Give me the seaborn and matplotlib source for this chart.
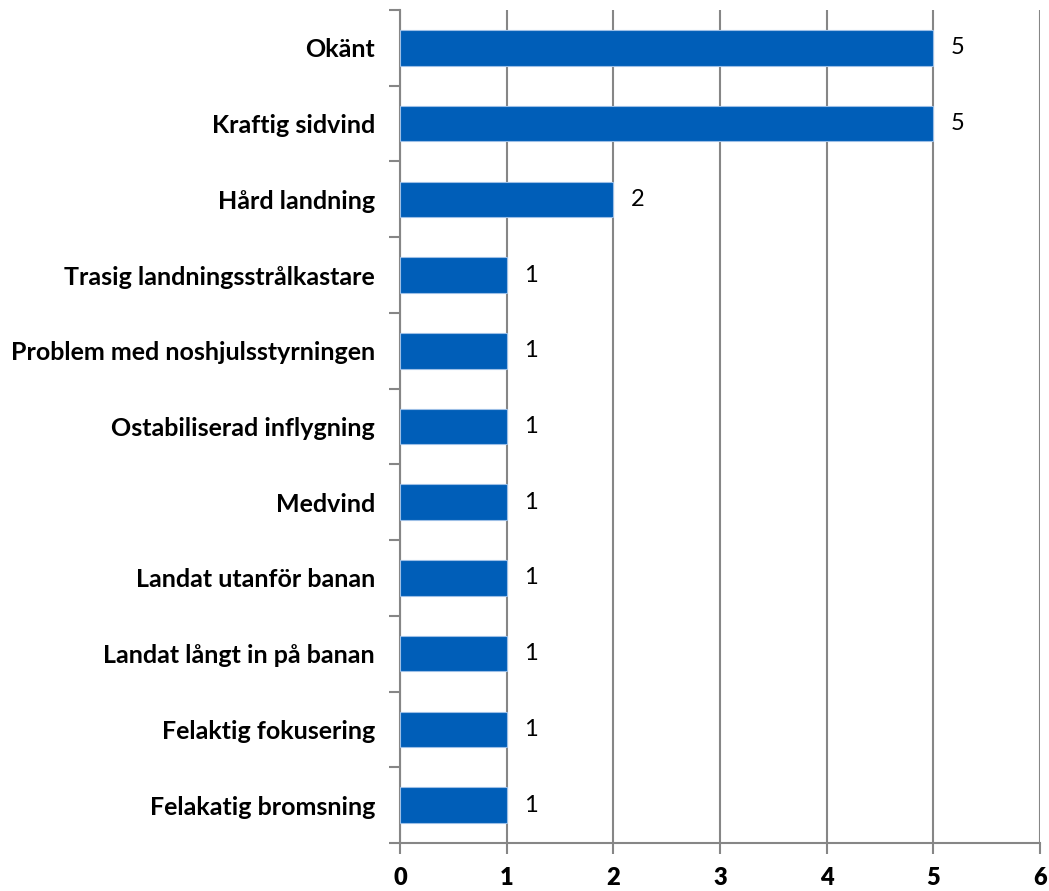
import pandas as pd
import seaborn as sns
import matplotlib.pyplot as plt
import numpy as np

# categories top to bottom
categories = ['Okänt', 'Kraftig sidvind', 'Hård landning',
              'Trasig landningsstrålkastare', 'Problem med noshjulsstyrningen',
              'Ostabiliserad inflygning', 'Medvind', 'Landat utanför banan',
              'Landat långt in på banan', 'Felaktig fokusering',
              'Felakatig bromsning']
counts = [5, 5, 2, 1, 1, 1, 1, 1, 1, 1, 1]
xticks = [0, 1, 2, 3, 4, 5, 6]

df = pd.DataFrame({'cat': categories, 'n': counts})

sns.set_style('white')
plt.rcParams['font.family'] = ['Lato', 'DejaVu Sans']
plt.rcParams['text.color'] = 'black'
plt.rcParams['xtick.labelcolor'] = 'black'
plt.rcParams['ytick.labelcolor'] = 'black'

fig = plt.figure(figsize=(10.49, 8.91), dpi=100)
ax = fig.add_axes([400 / 1049, 1 - 843 / 891, 640 / 1049, 833 / 891])

sns.barplot(data=df, x='n', y='cat', orient='h', color='#005EB8', saturation=1,
            width=0.47, edgecolor='#9DBFE6', linewidth=0.8, ax=ax, zorder=3)

ax.set_xlim(0, 6)
ax.set_ylim(len(categories) - 0.5, -0.5)
ax.set_xticks(xticks)
ax.set_xticklabels([str(t) for t in xticks], fontsize=17, fontweight='heavy')
ax.set_yticks(range(len(categories)))
ax.set_yticklabels(categories, fontsize=18, fontweight='bold')
ax.set_yticks(np.arange(-0.5, len(categories), 1), minor=True)
ax.tick_params(axis='y', which='major', length=0, pad=18, labelcolor='black')
ax.tick_params(axis='y', which='minor', length=8, width=1.5, color='#868686', direction='out', left=True)
ax.tick_params(axis='x', length=8, width=1.5, color='#868686', direction='out', bottom=True, pad=9,
               labelcolor='black')
ax.set_xlabel('')
ax.set_ylabel('')

ax.grid(axis='x', color='#868686', linewidth=1.5, zorder=0)
ax.grid(axis='y', visible=False)
for s in ['top', 'right']:
    ax.spines[s].set_visible(False)
for s in ['left', 'bottom']:
    ax.spines[s].set_color('#868686')
    ax.spines[s].set_linewidth(1.5)

for i, v in enumerate(counts):
    ax.text(v + 0.16, i, str(v), va='center', ha='left', fontsize=17, color='black')

fig.savefig('out.png', dpi=100)
